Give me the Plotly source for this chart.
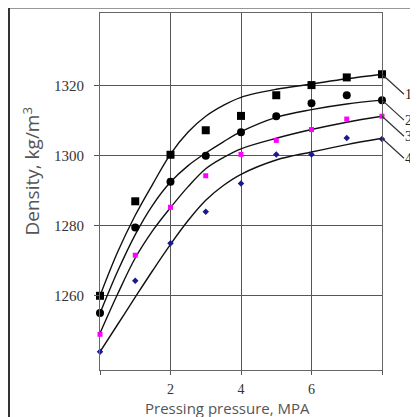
import plotly.graph_objects as go

# Measured points
px = [0, 1, 2, 3, 4, 5, 6, 7, 8]
s1 = [1260, 1287, 1300.3, 1307.3, 1311.4, 1317.3, 1320.2, 1322.4, 1323.3]
s2 = [1255.1, 1279.5, 1292.6, 1300.0, 1306.7, 1311.3, 1315.0, 1317.3, 1315.9]
s3 = [1249.0, 1271.6, 1285.3, 1294.3, 1300.4, 1304.4, 1307.5, 1310.5, 1311.3]
s4 = [1244.0, 1264.3, 1275.0, 1284.0, 1292.1, 1300.4, 1300.4, 1305.1, 1304.8]

# Fitted curves, read at these pressures
cx = [0, 0.5, 1, 1.5, 2, 2.5, 3, 3.5, 4, 5, 6, 7, 8]
c1 = [1260, 1272.5, 1283, 1292, 1300.5, 1306.8, 1311.3, 1314.4, 1316.7, 1319.0, 1320.5, 1322.0, 1323.3]
c2 = [1255, 1267, 1277.5, 1286, 1292.5, 1297.2, 1300.8, 1304.0, 1306.9, 1311.0, 1313.2, 1314.8, 1315.9]
c3 = [1249.3, 1260.5, 1270.8, 1278.7, 1285.2, 1291.2, 1296.3, 1299.5, 1302.0, 1305.0, 1307.5, 1309.6, 1311.3]
c4 = [1244, 1251.8, 1259.6, 1267.3, 1274.7, 1281.5, 1287.3, 1291.5, 1294.7, 1298.8, 1301.1, 1303.2, 1305.0]

labels = ["1", "2", "3", "4"]
xticks = [2, 4, 6]
xminor = [0, 8]
yticks = [1260, 1280, 1300, 1320]
x_title = "Pressing pressure, MPA"
y_title = "Density, kg/m<sup>3</sup>"

fig = go.Figure()

for c in [c1, c2, c3, c4]:
    fig.add_trace(go.Scatter(x=cx, y=c, mode="lines", line=dict(color="#111", width=1.4, shape="spline", smoothing=1.0),
                             hoverinfo="skip", showlegend=False))

styles = [
    dict(symbol="square", size=8, color="#000"),
    dict(symbol="circle", size=8, color="#000"),
    dict(symbol="square", size=5, color="#ff00ff"),
    dict(symbol="diamond", size=5, color="#1a1a8c"),
]
for s, st in zip([s1, s2, s3, s4], styles):
    fig.add_trace(go.Scatter(x=px, y=s, mode="markers", marker=st, cliponaxis=False, showlegend=False))

# curve number labels with leader lines
ends = [c1[-1], c2[-1], c3[-1], c4[-1]]
for lab, yv in zip(labels, ends):
    fig.add_annotation(x=cx[-1], y=yv, text=lab, showarrow=True, arrowhead=0, arrowwidth=1.2,
                       arrowcolor="#333", ax=22, ay=20, xanchor="left", borderpad=0,
                       font=dict(family="Liberation Serif", size=14, color="#222"))

# axis titles
fig.add_annotation(xref="paper", yref="paper", x=127.5 / 282, y=-37.5 / 357, text=x_title, showarrow=False,
                   xanchor="center", yanchor="middle",
                   font=dict(family="Open Sans", size=15, color="#555"))
fig.add_annotation(xref="paper", yref="paper", x=-69 / 282, y=198.5 / 357, text=y_title, showarrow=False,
                   xanchor="center", yanchor="middle", textangle=-90,
                   font=dict(family="Open Sans", size=19, color="#555"))

# outer frame (paper edge)
fig.add_shape(type="rect", xref="paper", yref="paper", x0=-91 / 282, y0=-0.3, x1=1.3, y1=1 + 5.5 / 357,
              line=dict(color="#333", width=2), layer="above")

fig.update_layout(
    width=410, height=409,
    margin=dict(l=92, r=36, t=5, b=47),
    plot_bgcolor="white", paper_bgcolor="white",
    xaxis=dict(range=[0, 8], tickvals=xticks, showgrid=True, gridcolor="#555", gridwidth=1,
               showline=True, mirror=True, linecolor="#666", linewidth=1, zeroline=False,
               ticks="outside", ticklen=4, tickcolor="#555", ticklabelstandoff=2,
               minor=dict(tickvals=xminor, ticks="outside", ticklen=4, tickcolor="#555", showgrid=False),
               tickfont=dict(family="Liberation Serif", size=14, color="#333")),
    yaxis=dict(range=[1238.8, 1340.8], tickvals=yticks, showgrid=True, gridcolor="#555", gridwidth=1,
               showline=True, mirror=True, linecolor="#666", linewidth=1, zeroline=False,
               ticks="outside", ticklen=5, tickcolor="#555", ticklabelstandoff=7,
               tickfont=dict(family="Liberation Serif", size=15, color="#333")),
)

fig.write_html("out.html")
